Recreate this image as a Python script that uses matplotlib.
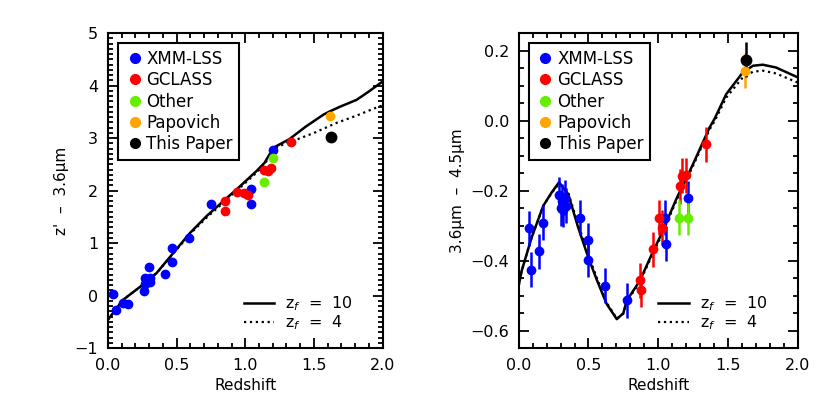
import matplotlib
matplotlib.use('Agg')
import matplotlib.pyplot as plt
from matplotlib.ticker import MultipleLocator

plt.rcParams['font.family'] = ['DejaVu Sans']

# survey colours
colors = {'XMM-LSS': '#0000ff', 'GCLASS': '#ff0000', 'Other': '#66ee00',
          'Papovich': '#ffa500', 'This Paper': '#000000'}
names = ['XMM-LSS', 'GCLASS', 'Other', 'Papovich', 'This Paper']

# left panel: z' - 3.6um
left_z = {
    'XMM-LSS': [0.04, 0.056, 0.11, 0.143, 0.26, 0.27, 0.27, 0.305, 0.30, 0.31,
                0.415, 0.47, 0.47, 0.59, 0.754, 1.04, 1.04, 1.20],
    'GCLASS': [0.85, 0.856, 0.94, 0.99, 1.023, 1.14, 1.166, 1.19, 1.33],
    'Other': [1.135, 1.20],
    'Papovich': [1.62],
    'This Paper': [1.624],
}
left_c = {
    'XMM-LSS': [0.03, -0.28, -0.14, -0.16, 0.08, 0.34, 0.22, 0.27, 0.55, 0.33,
                0.42, 0.64, 0.90, 1.09, 1.75, 2.03, 1.75, 2.77],
    'GCLASS': [1.80, 1.62, 1.97, 1.96, 1.92, 2.39, 2.37, 2.44, 2.93],
    'Other': [2.17, 2.62],
    'Papovich': [3.42],
    'This Paper': [3.02],
}
left_err = 0.05

# model tracks, left
left_zf10_z = [0.0, 0.11, 0.25, 0.354, 0.475, 0.596, 0.72, 0.84, 0.96, 1.08,
               1.14, 1.19, 1.22, 1.32, 1.44, 1.57, 1.615, 1.69, 1.81, 1.90, 2.0]
left_zf10 = [-0.46, -0.08, 0.20, 0.43, 0.81, 1.19, 1.52, 1.80, 2.08, 2.37,
             2.53, 2.75, 2.84, 2.98, 3.22, 3.45, 3.51, 3.60, 3.73, 3.89, 4.08]
left_zf4_z = [0.0, 0.11, 0.25, 0.354, 0.475, 0.596, 0.72, 0.84, 0.96, 1.08,
              1.14, 1.19, 1.22, 1.30, 1.37, 1.50, 1.663, 1.81, 1.98, 2.0]
left_zf4 = [-0.46, -0.08, 0.20, 0.43, 0.80, 1.17, 1.49, 1.77, 2.05, 2.34,
            2.50, 2.72, 2.81, 2.91, 2.97, 3.10, 3.29, 3.43, 3.61, 3.62]

# right panel: 3.6um - 4.5um
right_z = {
    'XMM-LSS': [0.071, 0.088, 0.143, 0.171, 0.29, 0.30, 0.31, 0.32, 0.33, 0.34,
                0.44, 0.495, 0.495, 0.62, 0.774, 1.052, 1.055, 1.217],
    'GCLASS': [0.869, 0.876, 0.96, 1.005, 1.026, 1.155, 1.171, 1.202, 1.34],
    'Other': [1.152, 1.214],
    'Papovich': [1.621],
    'This Paper': [1.629],
}
right_c = {
    'XMM-LSS': [-0.307, -0.426, -0.373, -0.292, -0.211, -0.25, -0.23, -0.255,
                -0.22, -0.243, -0.278, -0.342, -0.397, -0.472, -0.513, -0.278,
                -0.352, -0.222],
    'GCLASS': [-0.456, -0.483, -0.367, -0.278, -0.306, -0.187, -0.157, -0.156,
               -0.067],
    'Other': [-0.278, -0.278],
    'Papovich': [0.143],
    'This Paper': [0.174],
}
right_err = 0.05

right_model_z = [0.0, 0.021, 0.093, 0.176, 0.236, 0.289, 0.355, 0.426, 0.498,
                 0.557, 0.631, 0.703, 0.75, 0.774, 0.869, 0.95, 1.012, 1.131,
                 1.25, 1.369, 1.405, 1.488, 1.607, 1.68, 1.75, 1.845, 2.0]
right_zf10 = [-0.47, -0.429, -0.333, -0.243, -0.205, -0.176, -0.210, -0.305,
              -0.39, -0.452, -0.524, -0.567, -0.55, -0.514, -0.457, -0.385,
              -0.333, -0.223, -0.124, -0.019, 0.006, 0.076, 0.138, 0.157,
              0.160, 0.152, 0.124]
right_zf4 = [-0.47, -0.429, -0.333, -0.243, -0.207, -0.180, -0.206, -0.296,
             -0.382, -0.446, -0.520, -0.565, -0.552, -0.518, -0.461, -0.390,
             -0.338, -0.228, -0.129, -0.025, -0.001, 0.066, 0.124, 0.140,
             0.143, 0.135, 0.109]

fig = plt.figure(figsize=(8.3, 4.15), dpi=100)
ax1 = fig.add_axes([0.130, 0.161, 0.331, 0.759])
ax2 = fig.add_axes([0.625, 0.161, 0.336, 0.759])


def draw_panel(ax, zs, cs, err, m10_z, m10, m4_z, m4):
    l10, = ax.plot(m10_z, m10, '-', color='black', lw=1.8, zorder=2)
    l4, = ax.plot(m4_z, m4, ':', color='black', lw=1.6, zorder=2)
    handles = []
    for name in names:
        ms = 7.5 if name == 'This Paper' else 6
        ax.errorbar(zs[name], cs[name], yerr=err, fmt='o', color=colors[name],
                    ms=ms, elinewidth=1.8, capsize=0, zorder=3)
        handles.append(ax.plot([], [], 'o', color=colors[name], ms=7)[0])
    leg = ax.legend(handles, names, loc='upper left', fontsize=12,
                    handletextpad=0.1, handlelength=1.2, borderpad=0.4,
                    labelspacing=0.2, fancybox=False, edgecolor='black',
                    framealpha=1, borderaxespad=0.6)
    leg.get_frame().set_linewidth(1.5)
    ax.add_artist(leg)
    ax.legend([l10, l4], ['z$_f$  =  10', 'z$_f$  =  4'], loc='lower right',
              bbox_to_anchor=(0.945, 0.006), frameon=False, fontsize=11.5,
              handlelength=1.9, handletextpad=0.7, labelspacing=0.0,
              borderaxespad=0.5)
    ax.set_xlim(0, 2)
    ax.xaxis.set_major_locator(MultipleLocator(0.5))
    ax.xaxis.set_minor_locator(MultipleLocator(0.1))
    ax.set_xlabel('Redshift', fontsize=11)
    ax.tick_params(which='both', direction='in', top=True, right=True,
                   labelsize=11.5, width=1.3)
    ax.tick_params(which='major', length=7, pad=7)
    ax.tick_params(which='minor', length=3.5)
    for s in ax.spines.values():
        s.set_linewidth(1.5)


draw_panel(ax1, left_z, left_c, left_err, left_zf10_z, left_zf10,
           left_zf4_z, left_zf4)
ax1.set_ylim(-1, 5)
ax1.yaxis.set_major_locator(MultipleLocator(1))
ax1.yaxis.set_minor_locator(MultipleLocator(0.1))
ax1.set_ylabel("z'  \u2013  3.6\u03bcm", fontsize=11)

draw_panel(ax2, right_z, right_c, right_err, right_model_z, right_zf10,
           right_model_z, right_zf4)
ax2.set_ylim(-0.65, 0.25)
ax2.yaxis.set_major_locator(MultipleLocator(0.2))
ax2.yaxis.set_minor_locator(MultipleLocator(0.05))
ax2.set_ylabel('3.6\u03bcm  \u2013  4.5\u03bcm', fontsize=11)

fig.savefig('out.png', dpi=100)
